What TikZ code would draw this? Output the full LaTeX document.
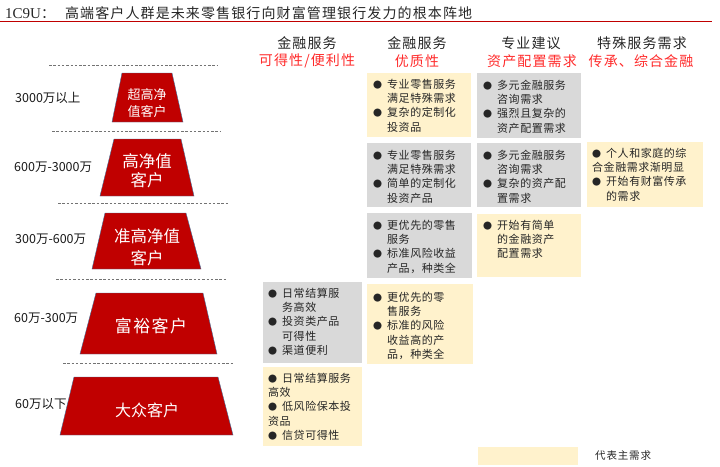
\documentclass[tikz,border=0pt]{standalone}
\usepackage{fontspec}
\setmainfont{Noto Sans CJK SC}
\newfontfamily\cjk{Noto Sans CJK SC}
\newfontfamily\cjkls[LetterSpace=8]{Noto Sans CJK SC}
\newfontfamily\cjkbox[LetterSpace=5]{Noto Sans CJK SC}
\newfontfamily\titlelatin{Liberation Serif}
\definecolor{dred}{HTML}{C00000}
\definecolor{byel}{HTML}{FFF2CC}
\definecolor{bgray}{HTML}{D9D9D9}
\definecolor{tred}{HTML}{FF2A2A}
\definecolor{tedge}{HTML}{41719C}
\newcommand\bl{\makebox[14pt][l]{\fontsize{9}{9}\selectfont ●}}
\newcommand\ind{\hspace*{14pt}}
\newcommand\boxtext[1]{\parbox[t]{120pt}{\cjkbox\fontsize{11}{14.4}\selectfont\raggedright #1}}
\tikzset{
  ybox/.style={fill=byel, draw=none, inner sep=0pt, anchor=north west},
  gbox/.style={fill=bgray, draw=none, inner sep=0pt, anchor=north west},
  txt/.style={anchor=base west, inner sep=0pt, text=black!85},
  trap/.style={fill=dred, draw=tedge, line width=0.4pt},
  traptext/.style={text=white, align=center, inner sep=0pt},
  sep/.style={draw=black!55, dash pattern=on 2.5pt off 1.8pt, line width=0.6pt},
  lvl/.style={anchor=west, inner sep=0pt, font=\fontsize{12.5}{13}\selectfont, text=black!90},
  head/.style={inner sep=0pt, font=\cjkls\fontsize{14}{16}\selectfont, text=black!85},
  headred/.style={inner sep=0pt, font=\cjkls\fontsize{14}{16}\selectfont, text=tred},
}
\begin{document}
\begin{tikzpicture}[x=1pt, y=-1pt]
\useasboundingbox (0,0) rectangle (720,466);
% title
\node[anchor=west, inner sep=0pt, text=black!85] (title) at (5,13)
  {{\titlelatin\fontsize{15}{16}\selectfont 1C9U}{\fontsize{14}{16}\selectfont ：}\hspace{10pt}{\cjkls\fontsize{14}{16}\selectfont 高端客户人群是未来零售银行向财富管理银行发力的根本阵地}};
\draw[dred, line width=1.3pt] (0,21.5) -- (712,21.5);
% headers
\node[head] (h1) at (307,43) {金融服务};
\node[headred] (h1r) at (307,61) {可得性/便利性};
\node[head] (h2) at (417,43) {金融服务};
\node[headred] (h2r) at (417,61) {优质性};
\node[head] (h3) at (531,43) {专业建议};
\node[headred] (h3r) at (532,61) {资产配置需求};
\node[head] (h4) at (642,43) {特殊服务需求};
\node[headred] (h4r) at (641,61) {传承、综合金融};
% dashed separators
\draw[sep] (49,65) -- (218,65);
\draw[sep] (52,131) -- (220,131);
\draw[sep] (58,203) -- (228,203);
\draw[sep] (56,279) -- (226,279);
\draw[sep] (63,363) -- (233,363);
% pyramid
\draw[trap] (122,73) -- (172,73) -- (183,122) -- (112,122) -- cycle;
\draw[trap] (114,139) -- (181,139) -- (194,196) -- (100,196) -- cycle;
\draw[trap] (105,213) -- (186,213) -- (201,269) -- (92,269) -- cycle;
\draw[trap] (96,293) -- (203,293) -- (217,354) -- (80,354) -- cycle;
\draw[trap] (74,377) -- (218,377) -- (233,435) -- (60,435) -- cycle;
\node[traptext, font=\fontsize{13}{17}\selectfont] (p1) at (147,103.5) {超高净\\值客户};
\node[traptext, font=\fontsize{16.5}{19}\selectfont] (p2) at (147,171) {高净值\\客户};
\node[traptext, font=\fontsize{16.5}{22}\selectfont] (p3) at (147,247) {准高净值\\客户};
\node[traptext, font=\cjkls\fontsize{17}{19}\selectfont] (p4) at (151,326) {富裕客户};
\node[traptext, font=\fontsize{16}{19}\selectfont] (p5) at (147,410) {大众客户};
% level labels
\node[lvl] (l1) at (15,98) {3000万以上};
\node[lvl] (l2) at (14,167) {600万-3000万};
\node[lvl] (l3) at (15,239) {300万-600万};
\node[lvl] (l4) at (14,318) {60万-300万};
\node[lvl] (l5) at (15,404) {60万以下};
% column 1
\node[gbox, minimum width=99pt, minimum height=81pt] (a) at (263,282) {};
\node[txt] (at) at (268,297) {\boxtext{\bl 日常结算服\\ \ind 务高效\\ \bl 投资类产品\\ \ind 可得性\\ \bl 渠道便利}};
\node[ybox, minimum width=99pt, minimum height=79pt] (b) at (263,367) {};
\node[txt] (bt) at (268,382) {\boxtext{\bl 日常结算服务\\ 高效\\ \bl 低风险保本投\\ 资品\\ \bl 信贷可得性}};
% column 2
\node[ybox, minimum width=104pt, minimum height=64pt] (c) at (367,73) {};
\node[txt] (ct) at (373,88) {\boxtext{\bl 专业零售服务\\ \ind 满足特殊需求\\ \bl 复杂的定制化\\ \ind 投资品}};
\node[gbox, minimum width=104pt, minimum height=64pt] (d) at (367,143) {};
\node[txt] (dt) at (373,159) {\boxtext{\bl 专业零售服务\\ \ind 满足特殊需求\\ \bl 简单的定制化\\ \ind 投资产品}};
\node[gbox, minimum width=105pt, minimum height=65pt] (e) at (367,213) {};
\node[txt] (et) at (373,229) {\boxtext{\bl 更优先的零售\\ \ind 服务\\ \bl 标准风险收益\\ \ind 产品，种类全}};
\node[ybox, minimum width=106pt, minimum height=80pt] (f) at (367,284) {};
\node[txt] (ft) at (373,301) {\boxtext{\bl 更优先的零\\ \ind 售服务\\ \bl 标准的风险\\ \ind 收益高的产\\ \ind 品，种类全}};
% column 3
\node[gbox, minimum width=104pt, minimum height=65pt] (g) at (477,73) {};
\node[txt] (gt) at (483,89) {\boxtext{\bl 多元金融服务\\ \ind 咨询需求\\ \bl 强烈且复杂的\\ \ind 资产配置需求}};
\node[gbox, minimum width=104pt, minimum height=64pt] (h) at (477,143) {};
\node[txt] (ht) at (483,159) {\boxtext{\bl 多元金融服务\\ \ind 咨询需求\\ \bl 复杂的资产配\\ \ind 置需求}};
\node[ybox, minimum width=104pt, minimum height=63pt] (i) at (477,214) {};
\node[txt] (it) at (483,229) {\boxtext{\bl 开始有简单\\ \ind 的金融资产\\ \ind 配置需求}};
% column 4
\node[ybox, minimum width=116pt, minimum height=65pt] (j) at (587,142) {};
\node[txt] (jt) at (592,157) {\boxtext{\bl 个人和家庭的综\\ 合金融需求渐明显\\ \bl 开始有财富传承\\ \ind 的需求}};
% legend
\node[ybox, minimum width=100pt, minimum height=18pt] (leg) at (478,447) {};
\node[anchor=west, inner sep=0pt, font=\cjkls\fontsize{10.5}{12}\selectfont, text=black!85] (legt) at (595,456) {代表主需求};
\end{tikzpicture}
\end{document}
